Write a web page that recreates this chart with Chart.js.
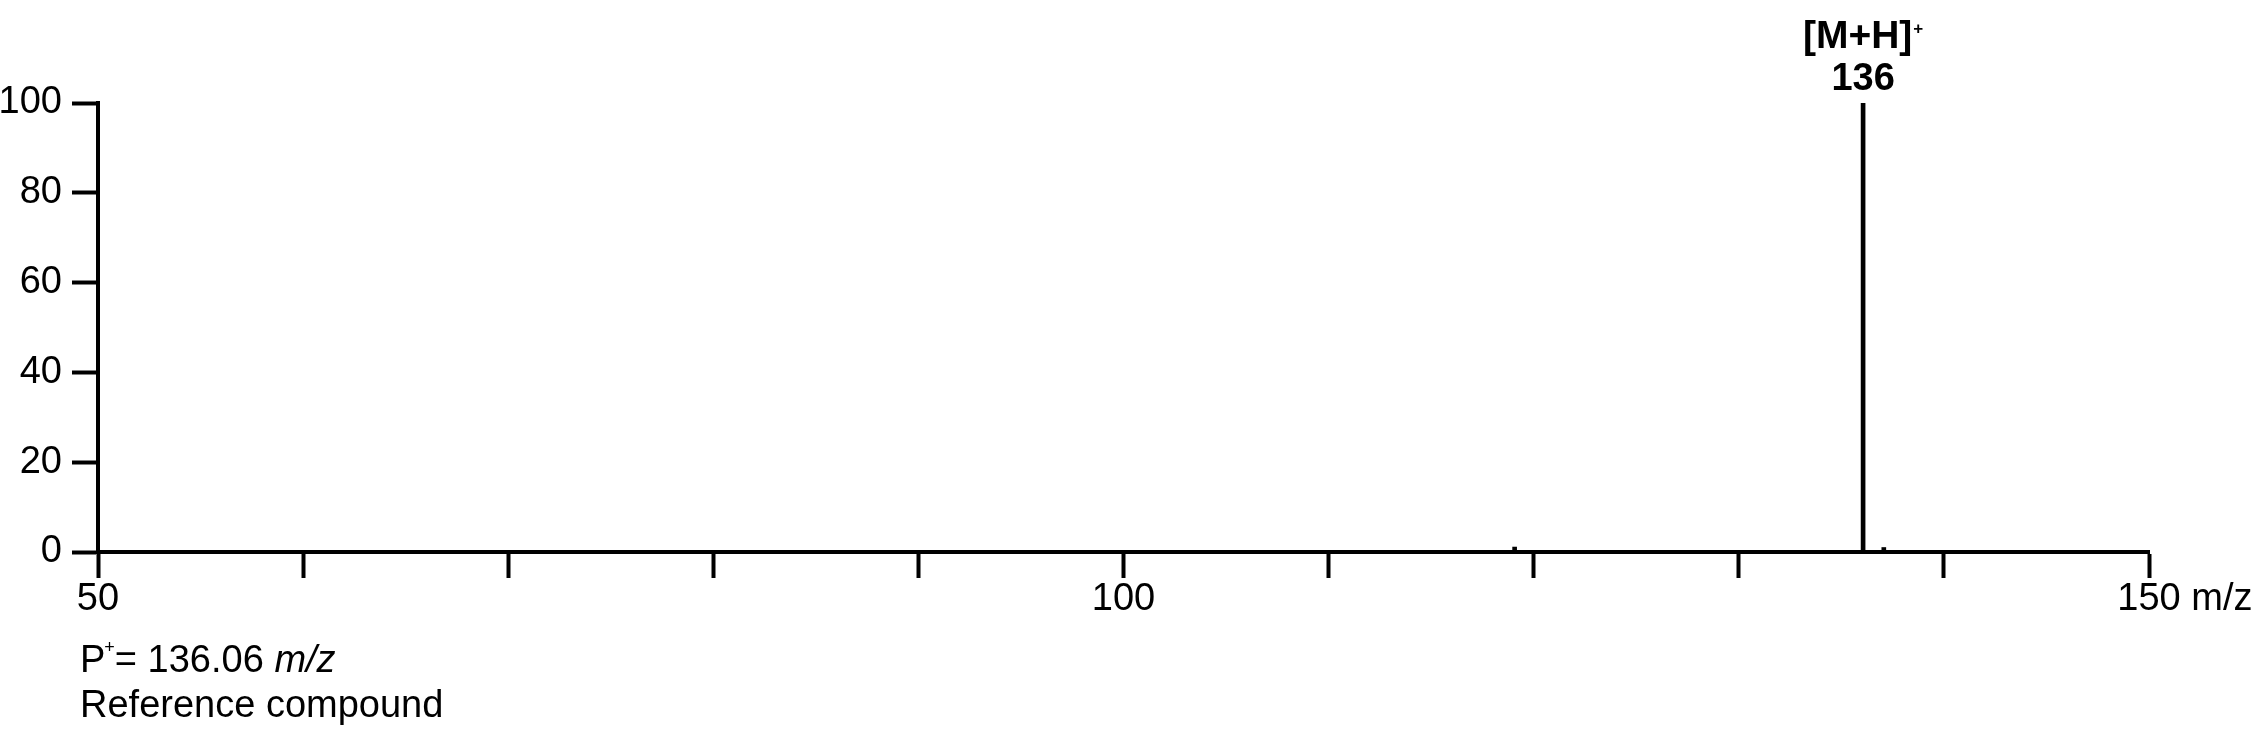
<!DOCTYPE html>
<html><head><meta charset="utf-8">
<script src="https://cdn.jsdelivr.net/npm/chart.js@4.4.1/dist/chart.umd.min.js"></script>
<style>html,body{margin:0;padding:0;background:#fff;overflow:hidden}#wrap{width:2255px;height:732px}</style>
</head><body><div id="wrap"><canvas id="c" width="2255" height="732"></canvas></div>
<script>
// ---- data ----
const mzValues = [119.07, 136.06, 137.07];
const intensities = [1.1, 100, 1.0];
const xLabelValues = [50, 100, 150];
const xUnit = 'm/z';
const peakMz = 136.06;
const peakIon = '[M+H]';
const peakCharge = '+';
const peakNominal = '136';
const precursorPrefix = 'P';
const precursorCharge = '+';
const precursorText = '= 136.06 ';
const precursorUnit = 'm/z';
const footerLine2 = 'Reference compound';

const FONT = "'Liberation Sans', Arial, sans-serif";
const FS = 38;
const TICK_LEN = 26, X_PAD = -1;

const textPlugin = {
  id: 'texts',
  afterDraw(chart) {
    const ctx = chart.ctx;
    const xs = chart.scales.x, ys = chart.scales.y;
    ctx.save();
    ctx.fillStyle = '#000';
    // unit after last x tick label
    ctx.font = FS + 'px ' + FONT;
    ctx.textBaseline = 'middle';
    ctx.textAlign = 'left';
    const lastV = xLabelValues[xLabelValues.length - 1];
    const lastPx = xs.getPixelForValue(lastV);
    const wLast = ctx.measureText(String(lastV)).width;
    ctx.fillText(' ' + xUnit, lastPx + wLast / 2, xs.top + TICK_LEN + X_PAD + FS * 0.6);

    // peak annotation
    const px = xs.getPixelForValue(peakMz);
    const py = ys.getPixelForValue(100);
    ctx.textBaseline = 'alphabetic';
    ctx.font = 'bold 39px ' + FONT;
    const wIon = ctx.measureText(peakIon).width;
    ctx.font = 'bold 17px ' + FONT;
    const wCh = ctx.measureText(peakCharge).width;
    const startX = px - (wIon + wCh + 1) / 2;
    ctx.font = 'bold 39px ' + FONT;
    ctx.fillText(peakIon, startX, py - 55);
    ctx.font = 'bold 17px ' + FONT;
    ctx.fillText(peakCharge, startX + wIon + 1, py - 69);
    ctx.font = 'bold 38px ' + FONT;
    ctx.textAlign = 'center';
    ctx.fillText(peakNominal, px, py - 13);

    // footer
    ctx.textAlign = 'left';
    const fx0 = xs.left - 18;
    let fx = fx0;
    const fy = 672;
    ctx.font = FS + 'px ' + FONT;
    ctx.fillText(precursorPrefix, fx, fy);
    fx += ctx.measureText(precursorPrefix).width;
    ctx.font = '18px ' + FONT;
    ctx.fillText(precursorCharge, fx - 1, fy - 19);
    fx += ctx.measureText(precursorCharge).width - 1;
    ctx.font = FS + 'px ' + FONT;
    ctx.fillText(precursorText, fx, fy);
    fx += ctx.measureText(precursorText).width;
    ctx.font = 'italic ' + FS + 'px ' + FONT;
    ctx.fillText(precursorUnit, fx, fy);
    ctx.font = FS + 'px ' + FONT;
    ctx.fillText(footerLine2, fx0, fy + 45);
    ctx.restore();
  }
};

new Chart(document.getElementById('c'), {
  type: 'bar',
  data: {
    datasets: [{
      data: mzValues.map((m, i) => ({x: m, y: intensities[i]})),
      backgroundColor: '#000',
      borderWidth: 0,
      barThickness: 4
    }]
  },
  options: {
    responsive: false,
    devicePixelRatio: 1,
    animation: false,
    layout: {padding: {left: 0, right: 106, top: 103, bottom: 0}},
    plugins: {legend: {display: false}, tooltip: {enabled: false}},
    scales: {
      x: {
        type: 'linear', min: 50, max: 150, offset: false,
        afterFit: s => { s.height = 180; },
        grid: {drawOnChartArea: false, drawTicks: true, tickLength: TICK_LEN, tickWidth: 4, tickColor: '#000', offset: false},
        border: {display: true, width: 4, color: '#000'},
        ticks: {
          stepSize: 10, autoSkip: false, maxRotation: 0, padding: X_PAD,
          color: '#000', font: {family: FONT, size: FS},
          callback: v => xLabelValues.includes(v) ? String(v) : ''
        }
      },
      y: {
        min: 0, max: 100,
        afterFit: s => { s.width = 98; },
        grid: {drawOnChartArea: false, drawTicks: true, tickLength: TICK_LEN, tickWidth: 4, tickColor: '#000'},
        border: {display: true, width: 4, color: '#000'},
        ticks: {stepSize: 20, padding: 10, color: '#000', font: {family: FONT, size: FS}}
      }
    }
  },
  plugins: [textPlugin]
});
</script></body></html>
